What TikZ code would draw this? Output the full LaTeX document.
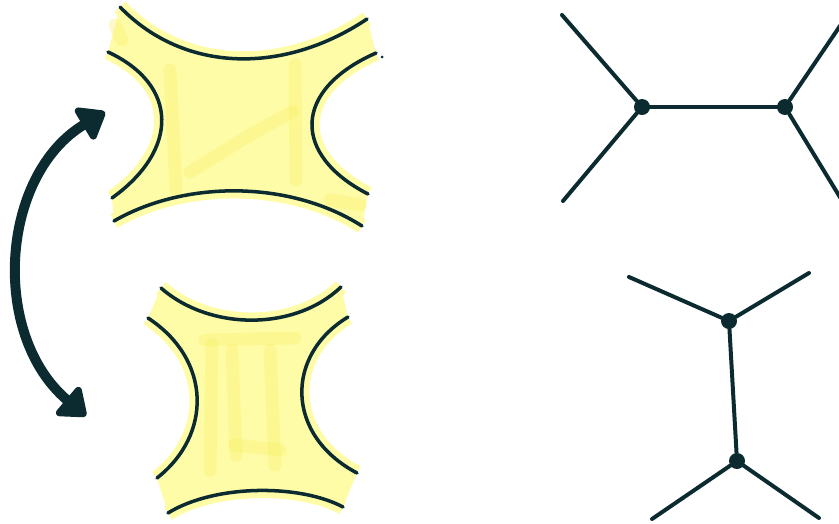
\documentclass[tikz,border=0pt]{standalone}
\usetikzlibrary{arrows.meta}
\definecolor{ink}{HTML}{0B2B30}
\definecolor{hilite}{HTML}{FFFCA8}
\definecolor{hilitedark}{HTML}{F7EE5E}
\begin{document}
\begin{tikzpicture}[x=0.03cm,y=-0.03cm,
  vtx/.style={circle,fill=ink,minimum size=0.48cm,inner sep=0pt},
  leg/.style={ink,line width=3.4pt,line cap=round},
  edge/.style={ink,line width=3pt,line cap=round},
  marker/.style={hilite,line width=13pt,line cap=square},
  smudge/.style={hilitedark,opacity=0.3,line width=11pt,line cap=round},
  swap/.style={ink,line width=8.5pt,{Triangle[round,length=0.85cm,width=1.25cm]}-{Triangle[round,length=0.85cm,width=1.25cm]}}]
\clip (0,0) rectangle (839,523);
\fill[white] (0,0) rectangle (839,523);
% upper patch
\fill[hilite] (108,52) .. controls (179,85) and (179,150) .. (112,198) -- (114,221)
  .. controls (185,180) and (290,180) .. (362,226) -- (368,194)
  .. controls (292,155) and (292,90) .. (376,53) -- (367,19)
  .. controls (285,74) and (185,74) .. (120,7) -- cycle;
\draw[marker] (120,7) .. controls (185,74) and (285,74) .. (367,19);
\draw[marker] (108,52) .. controls (179,85) and (179,150) .. (112,198);
\draw[marker] (376,53) .. controls (292,90) and (292,155) .. (368,194);
\draw[marker] (114,221) .. controls (185,180) and (290,180) .. (362,226);
\draw[smudge] (170,70) -- (176,190);
\draw[smudge] (295,65) -- (296,180);
\draw[smudge] (190,172) -- (250,135) -- (292,112);
\draw[smudge] (115,25) -- (122,40);
\draw[smudge] (330,200) -- (360,205);
\draw[edge] (120,7) .. controls (185,74) and (285,74) .. (367,19);
\draw[edge] (108,52) .. controls (179,85) and (179,150) .. (112,198);
\draw[edge] (376,53) .. controls (292,90) and (292,155) .. (368,194);
\draw[edge] (114,221) .. controls (185,180) and (290,180) .. (362,226);
\fill[ink] (382,57) circle (1.5);
% lower patch
\fill[hilite] (148,318) .. controls (212,360) and (212,435) .. (157,478) -- (168,513)
  .. controls (215,484) and (300,484) .. (343,507) -- (357,473)
  .. controls (285,435) and (285,355) .. (348,317) -- (341,287)
  .. controls (295,331) and (210,331) .. (161,288) -- cycle;
\draw[marker] (161,288) .. controls (210,331) and (295,331) .. (341,287);
\draw[marker] (148,318) .. controls (212,360) and (212,435) .. (157,478);
\draw[marker] (348,317) .. controls (285,355) and (285,435) .. (357,473);
\draw[marker] (168,513) .. controls (215,484) and (300,484) .. (343,507);
\draw[smudge] (205,340) -- (295,338);
\draw[smudge] (212,345) -- (210,470);
\draw[smudge] (232,350) -- (236,455);
\draw[smudge] (270,350) -- (275,465);
\draw[smudge] (235,445) -- (280,450);
\draw[edge] (161,288) .. controls (210,331) and (295,331) .. (341,287);
\draw[edge] (148,318) .. controls (212,360) and (212,435) .. (157,478);
\draw[edge] (348,317) .. controls (285,355) and (285,435) .. (357,473);
\draw[edge] (168,513) .. controls (215,484) and (300,484) .. (343,507);
% swap arrow
\coordinate (up) at (105,112);
\coordinate (down) at (86,416);
\draw[swap] (up) .. controls (0,175) and (-10,335) .. (down);
% s-channel graph
\node[vtx] (a) at (642,107) {};
\node[vtx] (b) at (785,107) {};
\coordinate (a1) at (562,15);
\coordinate (a2) at (563,201);
\coordinate (b1) at (861,-5);
\coordinate (b2) at (860,230);
\draw[leg] (a1) -- (a) -- (a2);
\draw[leg] (b1) -- (b) -- (b2);
\draw[leg] (a) -- (b);
% t-channel graph
\node[vtx] (c) at (729,321) {};
\node[vtx] (d) at (737,461) {};
\coordinate (c1) at (629,277);
\coordinate (c2) at (809,273);
\coordinate (d1) at (652,519);
\coordinate (d2) at (819,518);
\draw[leg] (c1) -- (c) -- (c2);
\draw[leg] (d1) -- (d) -- (d2);
\draw[leg] (c) -- (d);
\end{tikzpicture}
\end{document}
